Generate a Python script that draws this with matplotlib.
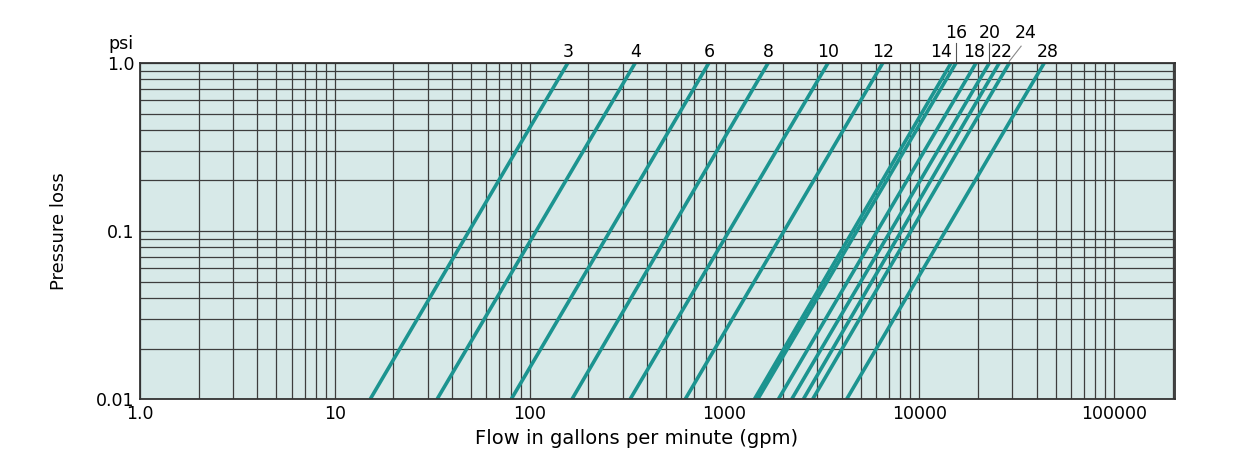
import numpy as np
from matplotlib import pyplot as plt
from matplotlib.ticker import FixedLocator, LogLocator, NullFormatter

# pipe sizes and flow (gpm) read at 1.0 psi and at 0.01 psi
sizes = ["3", "4", "6", "8", "10", "12", "14", "16", "18", "20", "22", "24", "28"]
flow_at_1psi = [157, 348, 831, 1675, 3400, 6490, 14550, 15420, 19540, 22860, 25700, 28950, 43740]
flow_at_001psi = [15.2, 33.5, 80.5, 165, 328, 629, 1425, 1482, 1892, 2214, 2541, 2836, 4238]
psi_range = [1.0, 0.01]

x_ticks = [1, 10, 100, 1000, 10000, 100000]
x_ticklabels = ["1.0", "10", "100", "1000", "10000", "100000"]
y_ticks = [0.01, 0.1, 1.0]
y_ticklabels = ["0.01", "0.1", "1.0"]

# labels that sit on the upper row with a leader line
upper = {"16", "20", "24"}

teal = "#1c9490"
grid_c = "#3d3d3d"

fig = plt.figure(figsize=(12.42, 4.63), dpi=100)
ax = fig.add_axes([0.1127, 0.138, 0.8333, 0.726])
ax.set_facecolor("#d7e9e8")
ax.set_xscale("log")
ax.set_yscale("log")
ax.set_xlim(1, 2.05e5)
ax.set_ylim(0.01, 1.0)

ax.xaxis.set_major_locator(FixedLocator(x_ticks))
ax.xaxis.set_minor_locator(LogLocator(base=10, subs=np.arange(2, 10)))
ax.xaxis.set_minor_formatter(NullFormatter())
ax.set_xticklabels(x_ticklabels)
ax.yaxis.set_major_locator(FixedLocator(y_ticks))
ax.yaxis.set_minor_locator(LogLocator(base=10, subs=np.arange(2, 10)))
ax.yaxis.set_minor_formatter(NullFormatter())
ax.set_yticklabels(y_ticklabels)
ax.tick_params(which="both", length=0, labelsize=12.5, pad=4)
ax.grid(which="both", color=grid_c, linewidth=0.9)
ax.set_axisbelow(True)
for s in ax.spines.values():
    s.set_color("#333333")
    s.set_linewidth(1.3)

tr = ax.get_xaxis_transform()
for name, q1, q2 in zip(sizes, flow_at_1psi, flow_at_001psi):
    ax.plot([q2, q1], psi_range[::-1], color=teal, linewidth=2.6, solid_capstyle="butt")
    if name in upper:
        if name == "24":
            ax.text(q1 * 1.22, 1.088, name, transform=tr, ha="center", va="center",
                    fontsize=12.5, clip_on=False)
            ax.plot([q1, q1 * 1.15], [1.005, 1.05], transform=tr, color="#888888",
                    lw=0.8, clip_on=False)
        else:
            ax.text(q1, 1.088, name, transform=tr, ha="center", va="center",
                    fontsize=12.5, clip_on=False)
            ax.plot([q1, q1], [1.005, 1.058], transform=tr, color="#555555",
                    lw=0.8, clip_on=False)
    else:
        dx = {"14": 0.89, "18": 0.98, "22": 1.036, "28": 1.048}.get(name, 1.0)
        ax.text(q1 * dx, 1.006, name, transform=tr, ha="center", va="bottom",
                fontsize=12.5, clip_on=False)

fig.text(0.097, 0.905, "psi", ha="center", va="center", fontsize=12.5)
ax.set_ylabel("Pressure loss", fontsize=13, labelpad=20)
ax.set_xlabel("Flow in gallons per minute (gpm)", fontsize=14, labelpad=5)
ax.xaxis.set_label_coords(0.48, -0.09)

fig.savefig("out.png", dpi=100)
